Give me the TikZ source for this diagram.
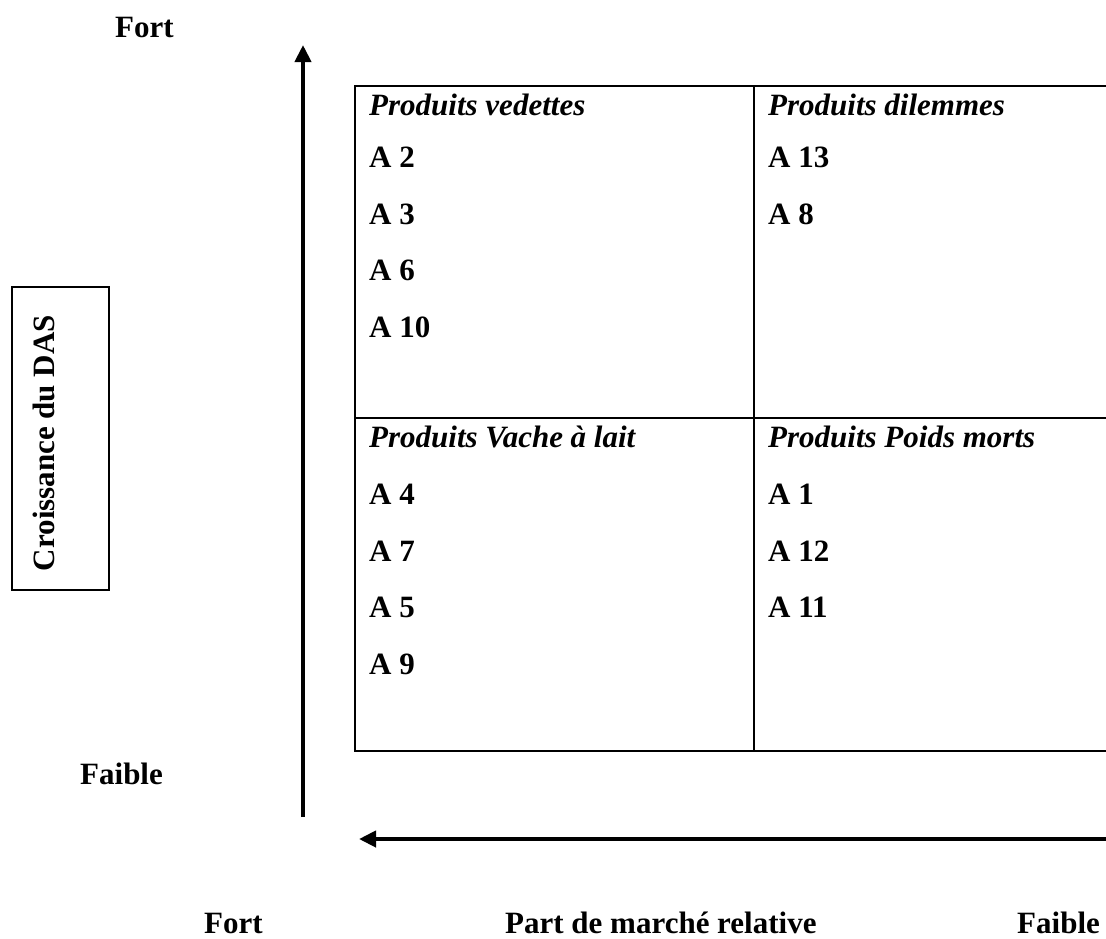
\documentclass[tikz,border=0pt]{standalone}
\usepackage{fontspec}
\setmainfont{Liberation Serif}
\usetikzlibrary{arrows.meta}
\begin{document}
\begin{tikzpicture}[x=1pt,y=-1pt,
  lbl/.style={font=\fontsize{31}{37}\selectfont\bfseries, inner sep=0pt, anchor=base west},
  head/.style={font=\fontsize{31}{37}\selectfont\bfseries\itshape, inner sep=0pt, anchor=base west},
  gridline/.style={line width=2.6pt},
  axis/.style={line width=4pt, -{Triangle[length=17pt,width=16pt]}}]
\useasboundingbox (0,0) rectangle (1106,938);
\clip (0,0) rectangle (1106,938);

% matrix grid (open on the right)
\draw[gridline] (1110,86) -- (355,86) -- (355,751) -- (1110,751);
\draw[gridline] (355,418) -- (1110,418);
\draw[gridline] (754,86) -- (754,751);

% axes
\coordinate (vfoot) at (303,817);
\coordinate (vtip) at (303,45);
\coordinate (hfoot) at (1106,839);
\coordinate (htip) at (359,839);
\draw[axis] (vfoot) -- (vtip);
\draw[axis] (hfoot) -- (htip);

% axis labels
\node[lbl] (fortTop) at (115,37) {Fort};
\node[lbl] (faibleLeft) at (80,784) {Faible};
\node[lbl] (fortBot) at (204,933) {Fort};
\node[lbl] (partMarche) at (505,933) {Part de marché relative};
\node[lbl] (faibleBot) at (1017,933) {Faible};

\node[draw, line width=2.2pt, minimum width=97pt, minimum height=303pt, inner sep=0pt]
  (croiss) at (60.5,438.5) {};
\node[font=\fontsize{31}{37}\selectfont\bfseries, rotate=90, inner sep=0pt]
  (croissTxt) at (44,443) {Croissance du DAS};

% top-left quadrant
\node[head] (qTL) at (369,115) {Produits vedettes};
\node[lbl] (a2) at (369,167) {A 2};
\node[lbl] (a3) at (369,224) {A 3};
\node[lbl] (a6) at (369,280) {A 6};
\node[lbl] (a10) at (369,337) {A 10};

% top-right quadrant
\node[head] (qTR) at (768,115) {Produits dilemmes};
\node[lbl] (a13) at (768,167) {A 13};
\node[lbl] (a8) at (768,224) {A 8};

% bottom-left quadrant
\node[head] (qBL) at (369,447) {Produits Vache à lait};
\node[lbl] (a4) at (369,504) {A 4};
\node[lbl] (a7) at (369,561) {A 7};
\node[lbl] (a5) at (369,617) {A 5};
\node[lbl] (a9) at (369,674) {A 9};

% bottom-right quadrant
\node[head] (qBR) at (768,447) {Produits Poids morts};
\node[lbl] (a1) at (768,504) {A 1};
\node[lbl] (a12) at (768,561) {A 12};
\node[lbl] (a11) at (768,617) {A 11};
\end{tikzpicture}
\end{document}
